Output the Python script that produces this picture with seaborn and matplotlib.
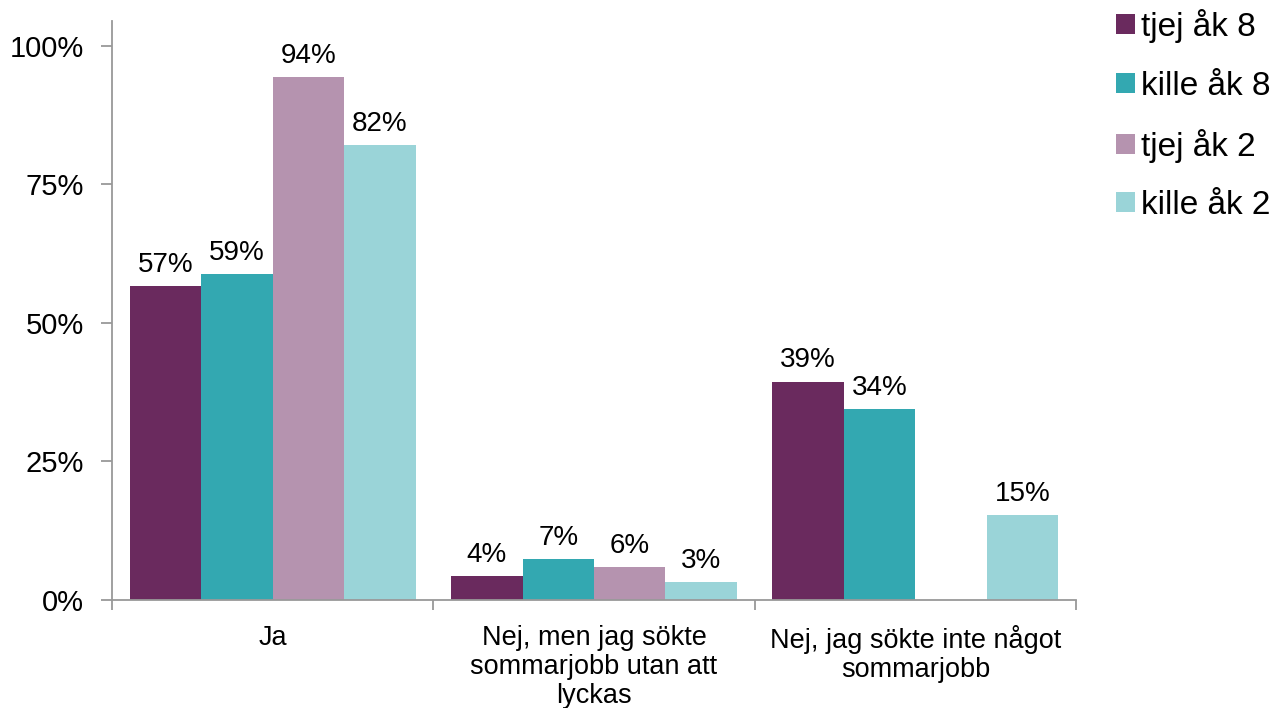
import matplotlib
matplotlib.use("Agg")
import matplotlib.pyplot as plt
import seaborn as sns
import pandas as pd
import numpy as np
from matplotlib.ticker import FixedLocator, PercentFormatter

categories = ["Ja", "Nej, men jag sökte\nsommarjobb utan att\nlyckas",
              "Nej, jag sökte inte något\nsommarjobb"]
series = ["tjej åk 8", "kille åk 8", "tjej åk 2", "kille åk 2"]
tjej_ak8 = [56.7, 4.3, 39.4]
kille_ak8 = [58.8, 7.4, 34.4]
tjej_ak2 = [94.4, 5.9, np.nan]
kille_ak2 = [82.1, 3.2, 15.3]
colors = ["#6A2A5E", "#33A8B1", "#B593AF", "#9AD4D8"]

rows = []
for s, vals in zip(series, [tjej_ak8, kille_ak8, tjej_ak2, kille_ak2]):
    for c, v in zip(categories, vals):
        rows.append({"cat": c, "series": s, "value": v})
df = pd.DataFrame(rows)

sns.set_theme(style="white")
plt.rcParams["font.family"] = ["Liberation Sans", "DejaVu Sans"]
plt.rcParams["text.color"] = "black"

fig = plt.figure(figsize=(12.77, 7.08), dpi=100)
ax = fig.add_axes([112/1277, 1-600/708, 964/1277, 579/708])

sns.barplot(data=df, x="cat", y="value", hue="series", order=categories,
            hue_order=series, palette=colors, width=0.89, gap=0,
            saturation=1, errorbar=None, ax=ax, legend=True, linewidth=0)

for cont in ax.containers:
    labels = [f"{v:.0f}%" if not np.isnan(v) else "" for v in cont.datavalues]
    ax.bar_label(cont, labels=labels, padding=6, fontsize=20, color="black")

ax.set_ylim(0, 104.5)
ax.set_xlim(-0.5, 2.5)
ax.set_yticks([0, 25, 50, 75, 100])
ax.yaxis.set_major_formatter(PercentFormatter(decimals=0))
ax.set_xlabel("")
ax.set_ylabel("")

for sp in ["top", "right"]:
    ax.spines[sp].set_visible(False)
for sp in ["left", "bottom"]:
    ax.spines[sp].set_color("#999999")
    ax.spines[sp].set_linewidth(1.3)

ax.tick_params(axis="y", which="major", left=True, length=8, width=1.3,
               color="#999999", labelsize=21, pad=12, labelcolor="black")
ax.tick_params(axis="x", which="major", bottom=False, labelsize=19.5, pad=12,
               labelcolor="black")
ax.xaxis.set_minor_locator(FixedLocator([-0.5, 0.5, 1.5, 2.5]))
ax.tick_params(axis="x", which="minor", bottom=True, length=7, width=1.3,
               color="#999999")
for lbl in ax.get_xticklabels():
    lbl.set_linespacing(1.15)

leg = ax.legend(loc="upper left", bbox_to_anchor=(1093/1277, 1.02),
                bbox_transform=fig.transFigure, frameon=False, fontsize=24,
                handlelength=0.55, handleheight=0.55, handletextpad=0.2,
                labelspacing=0.82, borderaxespad=0.3)
for t in leg.get_texts():
    t.set_color("black")

fig.savefig("out.png", dpi=100)
